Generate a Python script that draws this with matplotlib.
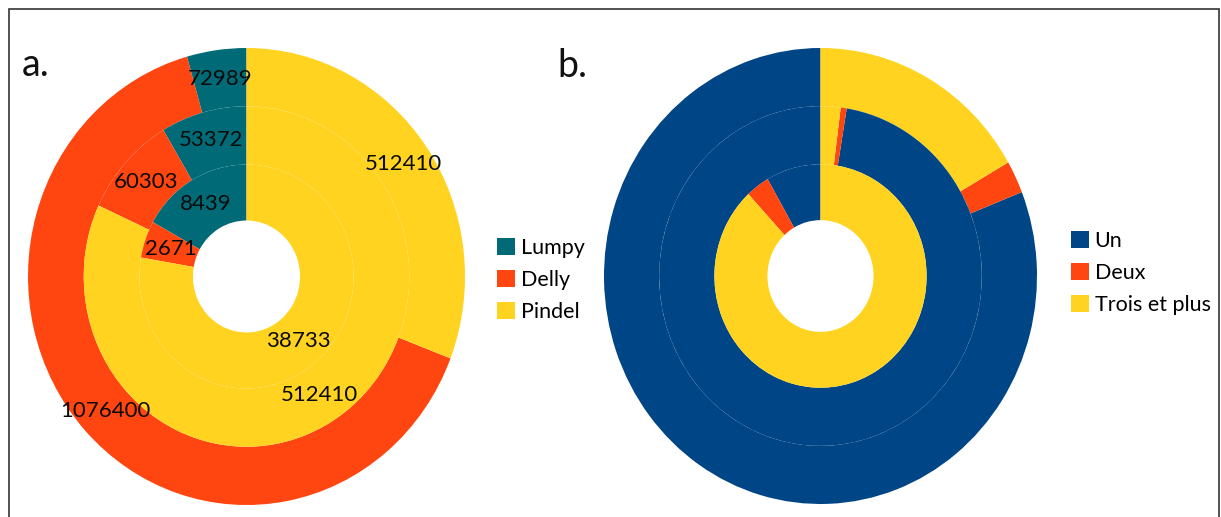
import numpy as np
from matplotlib import pyplot as plt
from matplotlib.patches import Circle, Rectangle

plt.rcParams['font.family'] = ['Lato', 'DejaVu Sans']

# Panel a: number of variants per caller, three rings (outer -> inner)
callers = ['Lumpy', 'Delly', 'Pindel']
ring_outer_a = [72989, 1076400, 512410]
ring_middle_a = [53372, 60303, 512410]
ring_inner_a = [8439, 2671, 38733]

# Panel b: share of variants found by one, two, three or more callers (%)
groups = ['Un', 'Deux', 'Trois et plus']
ring_outer_b = [81.0, 2.3, 16.7]
ring_middle_b = [97.4, 0.6, 2.0]
ring_inner_b = [8.3, 3.6, 88.1]

colors_a = ['#006b76', '#ff4510', '#ffd320']
colors_b = ['#004586', '#ff4510', '#ffd320']

radii = [1.0, 0.745, 0.49]
widths = [0.255, 0.255, 0.245]

W, H = 1221, 517
fig = plt.figure(figsize=(W / 100, H / 100), dpi=100)


def px_axes(x0, y0, x1, y1):
    return fig.add_axes([x0 / W, 1 - y1 / H, (x1 - x0) / W, (y1 - y0) / H])


def draw_rings(ax, rings, colors, show_values):
    outer_wedges = None
    for r, wd, vals in zip(radii, widths, rings):
        wedges, _ = ax.pie(vals, radius=r, colors=colors, startangle=90,
                           counterclock=True,
                           wedgeprops=dict(width=wd, linewidth=0))
        if outer_wedges is None:
            outer_wedges = wedges
        if show_values:
            for w, v in zip(wedges, vals):
                ang = np.deg2rad((w.theta1 + w.theta2) / 2)
                rm = w.r - w.width / 2
                ax.text(rm * np.cos(ang), rm * np.sin(ang), str(v),
                        ha='center', va='center', fontsize=16, color='#0a0a0a')
    # faint ring boundaries
    for r in radii[1:]:
        ax.add_patch(Circle((0, 0), r, fill=False, ec='white', lw=0.7,
                            ls=(0, (4, 3)), alpha=0.55, zorder=0.5))
    ax.set_aspect('auto')
    ax.set_xlim(-1, 1)
    ax.set_ylim(-1, 1)
    ax.axis('off')
    return outer_wedges


ax_a = px_axes(28, 48, 465, 505)
wa = draw_rings(ax_a, [ring_outer_a, ring_middle_a, ring_inner_a], colors_a, True)

ax_b = px_axes(604, 48, 1037, 504)
wb = draw_rings(ax_b, [ring_outer_b, ring_middle_b, ring_inner_b], colors_b, False)

leg_kw = dict(loc='center left', frameon=False, fontsize=15.5, handlelength=0.85,
              handleheight=0.85, handletextpad=0.25, labelspacing=0.55,
              borderpad=0, borderaxespad=0)
fig.legend(wa, callers, bbox_to_anchor=(497 / W, 1 - 280 / H), **leg_kw)
fig.legend(wb, groups, bbox_to_anchor=(1071 / W, 1 - 273 / H), **leg_kw)

fig.text(22 / W, 1 - 76 / H, 'a.', fontsize=27, color='#111111')
fig.text(557 / W, 1 - 77 / H, 'b.', fontsize=27, color='#111111')

# frame around the whole figure
fig.patches.append(Rectangle((9 / W, -0.05), (1219 - 9) / W, (1 - 9 / H) + 0.05,
                             transform=fig.transFigure, fill=False,
                             ec='#333333', lw=1.2))

fig.savefig('out.png', dpi=100)
